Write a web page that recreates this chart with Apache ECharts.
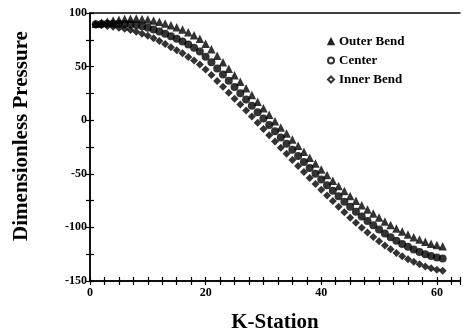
<!DOCTYPE html>
<html>
<head>
<meta charset="utf-8">
<script src="https://cdn.jsdelivr.net/npm/echarts@6/dist/echarts.min.js"></script>
<style>
  html, body { margin: 0; padding: 0; background: #fff; }
  #main { width: 463px; height: 333px; }
</style>
</head>
<body>
<div id="main"></div>
<script>
var kStation = [];
for (var i = 1; i <= 61; i++) kStation.push(i);

// values, station 1..61
var outerBend = [90.0, 91.1, 92.1, 92.9, 93.7, 94.3, 94.7, 94.8, 94.5, 93.9,
  93.0, 91.8, 90.2, 88.5, 86.7, 84.6, 82.0, 79.3, 76.0, 71.3,
  66.1, 60.1, 54.1, 48.0, 41.9, 35.8, 29.7, 23.5, 17.3, 11.1,
  5.0, -0.9, -6.7, -12.4, -18.1, -23.8, -29.4, -35.0, -40.5, -45.9,
  -51.2, -56.4, -61.3, -66.1, -70.7, -75.1, -79.3, -83.3, -87.1, -90.8,
  -94.4, -97.8, -101.0, -103.9, -106.6, -109.1, -111.4, -113.5, -115.2, -116.5, -117.5];
var center = [89.5, 89.8, 90.0, 90.0, 90.0, 89.8, 89.4, 88.7, 87.6, 86.3,
  84.7, 82.8, 80.6, 78.3, 76.0, 73.5, 70.5, 67.5, 64.0, 59.3,
  54.1, 48.3, 42.6, 36.8, 31.0, 25.2, 19.4, 13.5, 7.5, 1.5,
  -4.5, -10.4, -16.2, -21.9, -27.6, -33.3, -38.9, -44.5, -50.0, -55.4,
  -60.7, -65.9, -71.0, -76.0, -80.8, -85.4, -89.8, -94.0, -98.0, -101.9,
  -105.6, -109.1, -112.4, -115.4, -118.1, -120.6, -122.9, -125.0, -126.7, -128.0, -129.0];
var innerBend = [89.0, 88.5, 87.9, 87.1, 86.3, 85.3, 84.1, 82.6, 80.7, 78.7,
  76.4, 73.8, 71.0, 68.1, 65.3, 62.4, 59.0, 55.7, 52.0, 47.3,
  42.1, 36.5, 31.1, 25.6, 20.1, 14.6, 9.1, 3.5, -2.3, -8.1,
  -14.0, -19.9, -25.7, -31.4, -37.1, -42.8, -48.4, -54.0, -59.5, -64.9,
  -70.2, -75.4, -80.7, -85.9, -90.9, -95.7, -100.3, -104.7, -108.9, -113.0,
  -116.8, -120.4, -123.8, -126.9, -129.6, -132.1, -134.4, -136.5, -138.2, -139.5, -140.5];

var seriesNames = ['Outer Bend', 'Center', 'Inner Bend'];
var legendIcons = ['triangle', 'emptyCircle', 'emptyDiamond'];
// the printed markers are so dense they read as solid black
var markSymbols = ['triangle', 'circle', 'diamond'];

function pairs(ys) {
  return kStation.map(function (k, i) { return [k, ys[i]]; });
}

var font = 'Liberation Serif, Times New Roman, serif';
var ink = '#000';

var myChart = echarts.init(document.getElementById('main'));
var baseX = {
  type: 'value', min: 0, max: 64, interval: 2.5,
  axisLine: { onZero: false, lineStyle: { color: ink, width: 1.5 } },
  splitLine: { show: false }
};
var baseY = {
  type: 'value', min: -150, max: 100, interval: 25,
  axisLine: { onZero: false, lineStyle: { color: ink, width: 1.5 } },
  splitLine: { show: false }
};

var option = {
  backgroundColor: '#fff',
  animation: false,
  grid: { left: 90, right: 3, top: 13, bottom: 52, outerBoundsMode: 'none' },
  legend: {
    orient: 'vertical', left: 322, top: 30, itemGap: 6,
    itemWidth: 6, itemHeight: 6,
    textStyle: { fontFamily: font, fontWeight: 'bold', fontSize: 13, color: ink },
    data: seriesNames.map(function (n, i) {
      return { name: n, icon: legendIcons[i], itemStyle: { color: ink, borderColor: ink, borderWidth: 1.5 } };
    })
  },
  xAxis: [
    Object.assign({}, baseX, {
      name: 'K-Station', nameLocation: 'middle', nameGap: 31,
      nameTextStyle: { fontFamily: font, fontWeight: 'bold', fontSize: 21, color: ink },
      axisTick: { show: true, length: 4, lineStyle: { color: ink, width: 1.2 } },
      axisLabel: {
        fontFamily: font, fontWeight: 'bold', fontSize: 12, color: ink, margin: 6,
        formatter: function (v) { return v % 20 === 0 ? String(v) : ''; }
      }
    }),
    Object.assign({}, baseX, {
      position: 'bottom',
      axisTick: { show: true, inside: true, length: 4, lineStyle: { color: ink, width: 1.2 } },
      axisLabel: { show: false }
    }),
    Object.assign({}, baseX, {
      position: 'top',
      axisTick: { show: false },
      axisLabel: { show: false }
    })
  ],
  yAxis: [
    Object.assign({}, baseY, {
      name: 'Dimensionless Pressure', nameLocation: 'middle', nameGap: 58,
      nameTextStyle: {
        fontFamily: font, fontWeight: 'bold', fontSize: 21, color: ink,
        padding: [0, 0, 0, 22]
      },
      axisTick: { show: true, length: 4, lineStyle: { color: ink, width: 1.2 } },
      axisLabel: {
        fontFamily: font, fontWeight: 'bold', fontSize: 12, color: ink, margin: 3,
        formatter: function (v) { return v % 50 === 0 ? String(v) : ''; }
      }
    }),
    Object.assign({}, baseY, {
      position: 'left',
      axisTick: { show: true, inside: true, length: 4, lineStyle: { color: ink, width: 1.2 } },
      axisLabel: { show: false }
    })
  ],
  series: [outerBend, center, innerBend].map(function (ys, i) {
    return {
      name: seriesNames[i],
      type: 'scatter',
      xAxisIndex: 0, yAxisIndex: 0,
      symbol: markSymbols[i],
      symbolSize: i === 0 ? 8.5 : 8,
      itemStyle: { color: ink },
      data: pairs(ys)
    };
  })
};
myChart.setOption(option);
window.addEventListener('resize', function () {
  myChart.resize();
});
</script>
</body>
</html>
